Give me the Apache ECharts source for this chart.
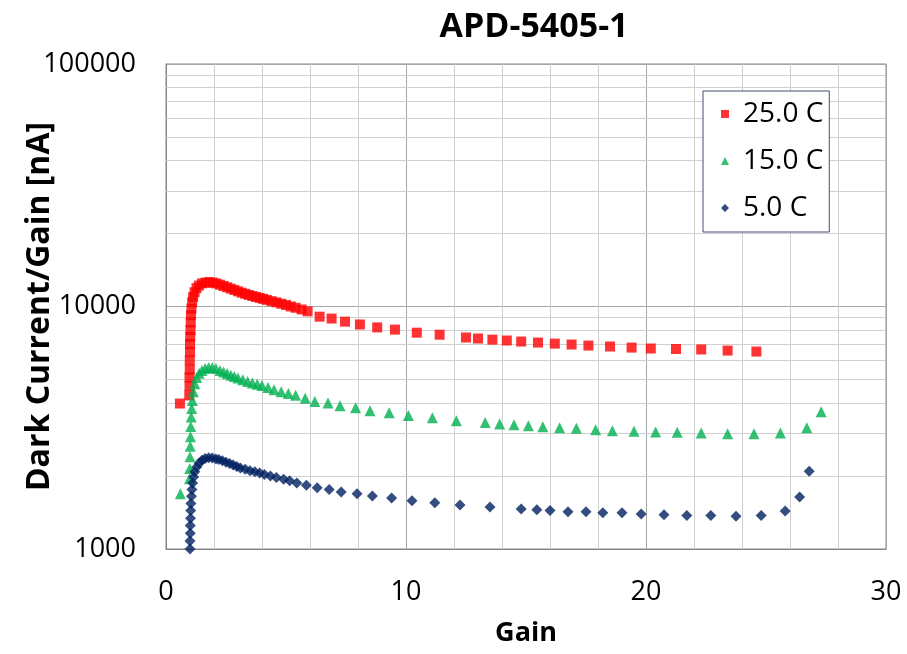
<!DOCTYPE html>
<html>
<head>
<meta charset="utf-8">
<script src="https://cdn.jsdelivr.net/npm/echarts@6/dist/echarts.min.js"></script>
<style>
  html, body { margin: 0; padding: 0; background: #fff; }
  #chart { width: 907px; height: 654px; }
</style>
</head>
<body>
<div id="chart"></div>
<script>
// [gain, dark current / gain (nA)]
const data25 = [
  [0.58, 3980], [0.97, 4300], [0.98, 4700], [0.98, 5100], [0.99, 5500], [0.99, 6000],
  [1.0, 6500], [1.0, 7000], [1.01, 7500], [1.02, 8000], [1.03, 8600], [1.04, 9200],
  [1.06, 9800], [1.09, 10400], [1.13, 10950], [1.19, 11450], [1.27, 11900], [1.37, 12200],
  [1.5, 12450], [1.65, 12550], [1.8, 12600], [1.95, 12550], [2.1, 12450], [2.25, 12300],
  [2.4, 12150], [2.55, 12000], [2.7, 11850], [2.85, 11700], [3.0, 11550], [3.15, 11400],
  [3.3, 11280], [3.45, 11160], [3.6, 11050], [3.75, 10950], [3.9, 10850], [4.05, 10750],
  [4.2, 10650], [4.4, 10520], [4.6, 10400], [4.8, 10270], [5.0, 10150], [5.2, 10000],
  [5.4, 9880], [5.65, 9720], [5.9, 9550], [6.4, 9080], [6.9, 8920], [7.46, 8660],
  [8.08, 8430], [8.8, 8200], [9.54, 8030], [10.45, 7800], [11.4, 7650], [12.5, 7450],
  [13.0, 7380], [13.6, 7300], [14.2, 7240], [14.8, 7170], [15.5, 7100], [16.2, 7030],
  [16.9, 6970], [17.6, 6900], [18.5, 6840], [19.4, 6770], [20.2, 6710], [21.25, 6680],
  [22.3, 6650], [23.4, 6580], [24.6, 6520]
];
const data15 = [
  [0.6, 1690], [0.98, 1950], [0.99, 2150], [1.0, 2400], [1.01, 2650], [1.02, 2900],
  [1.03, 3200], [1.05, 3500], [1.07, 3800], [1.1, 4100], [1.14, 4450], [1.2, 4800],
  [1.28, 5100], [1.38, 5300], [1.5, 5450], [1.63, 5550], [1.78, 5600], [1.93, 5600],
  [2.08, 5550], [2.25, 5450], [2.4, 5370], [2.55, 5290], [2.7, 5210], [2.85, 5140],
  [3.0, 5070], [3.2, 4990], [3.4, 4910], [3.6, 4840], [3.8, 4780], [4.0, 4720],
  [4.25, 4630], [4.5, 4540], [4.8, 4450], [5.1, 4380], [5.4, 4310], [5.8, 4180],
  [6.2, 4060], [6.75, 4000], [7.25, 3900], [7.9, 3820], [8.5, 3720], [9.3, 3650],
  [10.1, 3550], [11.1, 3480], [12.1, 3380], [13.3, 3320], [13.9, 3280], [14.5, 3250],
  [15.1, 3220], [15.7, 3190], [16.4, 3160], [17.1, 3150], [17.9, 3100], [18.6, 3070],
  [19.5, 3060], [20.4, 3040], [21.3, 3030], [22.3, 3010], [23.4, 2990], [24.5, 2985],
  [25.6, 3010], [26.7, 3160], [27.3, 3680]
];
const data5 = [
  [1.0, 1000], [1.0, 1080], [1.01, 1160], [1.01, 1250], [1.02, 1340], [1.03, 1440],
  [1.04, 1540], [1.06, 1650], [1.08, 1760], [1.11, 1870], [1.15, 1980], [1.2, 2080],
  [1.28, 2180], [1.38, 2260], [1.5, 2320], [1.63, 2360], [1.78, 2380], [1.93, 2370],
  [2.08, 2350], [2.2, 2340], [2.35, 2310], [2.5, 2280], [2.65, 2250], [2.8, 2220],
  [2.95, 2190], [3.1, 2160], [3.3, 2130], [3.5, 2100], [3.7, 2080], [3.9, 2060],
  [4.1, 2030], [4.35, 2000], [4.6, 1970], [4.9, 1940], [5.15, 1910], [5.45, 1870],
  [5.85, 1830], [6.3, 1790], [6.8, 1760], [7.3, 1720], [7.96, 1690], [8.6, 1656],
  [9.4, 1624], [10.25, 1580], [11.2, 1550], [12.25, 1520], [13.5, 1490], [14.8, 1463],
  [15.45, 1450], [16.0, 1440], [16.75, 1425], [17.5, 1425], [18.2, 1410], [19.0, 1410],
  [19.8, 1395], [20.75, 1385], [21.7, 1375], [22.7, 1375], [23.75, 1365], [24.8, 1375],
  [25.8, 1435], [26.4, 1640], [26.8, 2090]
];
const seriesNames = ['25.0 C', '15.0 C', '5.0 C'];
// minor log gridlines
const logMinorLines = [2000, 3000, 4000, 5000, 6000, 7000, 8000, 9000,
  20000, 30000, 40000, 50000, 60000, 70000, 80000, 90000];

const font = '"Open Sans", sans-serif';
const chart = echarts.init(document.getElementById('chart'));

chart.setOption({
  animation: false,
  backgroundColor: '#fff',
  title: {
    text: 'APD-5405-1',
    left: 529,
    textAlign: 'center',
    top: 5,
    textStyle: { fontFamily: font, fontSize: 34, fontWeight: 'bold', color: '#000' }
  },
  legend: {
    data: [
      { name: seriesNames[0], icon: 'rect' },
      { name: seriesNames[1], icon: 'triangle' },
      { name: seriesNames[2], icon: 'diamond' }
    ],
    orient: 'vertical',
    left: 703,
    top: 91,
    z: 10,
    padding: [9, 6, 10, 18],
    itemGap: 19,
    itemWidth: 8,
    itemHeight: 8,
    borderColor: '#3e4f73',
    borderWidth: 1,
    backgroundColor: '#fff',
    textStyle: {
      fontFamily: font, fontSize: 28, lineHeight: 26, color: '#000', padding: [0, 0, 0, 9]
    }
  },
  grid: {
    left: 166, right: 21, top: 64, bottom: 105,
    containLabel: false,
    outerBoundsMode: 'none',
    show: true, borderColor: '#868686', borderWidth: 1
  },
  xAxis: {
    type: 'value',
    min: 0, max: 30, interval: 10,
    name: 'Gain',
    nameLocation: 'middle',
    nameGap: 71,
    nameMoveOverlap: false,
    nameTextStyle: { fontFamily: font, fontSize: 27, fontWeight: 'bold', color: '#000' },
    axisLine: { lineStyle: { color: '#868686' } },
    axisTick: { show: false },
    axisLabel: { margin: 30, fontFamily: font, fontSize: 27, color: '#000' },
    splitLine: { lineStyle: { color: '#a6a6a6' } },
    minorTick: { show: false, splitNumber: 5 },
    minorSplitLine: { show: true, lineStyle: { color: '#d0d0d0' } }
  },
  yAxis: {
    type: 'log',
    logBase: 10,
    min: 1000, max: 100000,
    name: 'Dark Current/Gain [nA]',
    nameLocation: 'middle',
    nameGap: 110,
    nameMoveOverlap: false,
    nameTextStyle: { fontFamily: font, fontSize: 32, fontWeight: 'bold', color: '#000' },
    axisLine: { show: true, lineStyle: { color: '#868686' } },
    axisTick: { show: false },
    axisLabel: {
      margin: 30, fontFamily: font, fontSize: 27, color: '#000',
      formatter: v => String(Math.round(v))
    },
    splitLine: { lineStyle: { color: '#a6a6a6' } }
  },
  series: [
    {
      name: 'grid',
      type: 'line',
      data: [],
      z: 1,
      silent: true,
      markLine: {
        z: 1,
        silent: true,
        symbol: 'none',
        label: { show: false },
        emphasis: { disabled: true },
        lineStyle: { color: '#d0d0d0', type: 'solid', width: 1 },
        data: logMinorLines.map(v => ({ yAxis: v }))
      }
    },
    {
      name: seriesNames[0], type: 'scatter', z: 3, data: data25,
      symbol: 'rect', symbolSize: 10, itemStyle: { color: '#ff0000' }
    },
    {
      name: seriesNames[1], type: 'scatter', z: 3, data: data15,
      symbol: 'triangle', symbolSize: 11, itemStyle: { color: '#00b050' }
    },
    {
      name: seriesNames[2], type: 'scatter', z: 3, data: data5,
      symbol: 'diamond', symbolSize: 11, itemStyle: { color: '#002060' }
    }
  ]
});
</script>
</body>
</html>
